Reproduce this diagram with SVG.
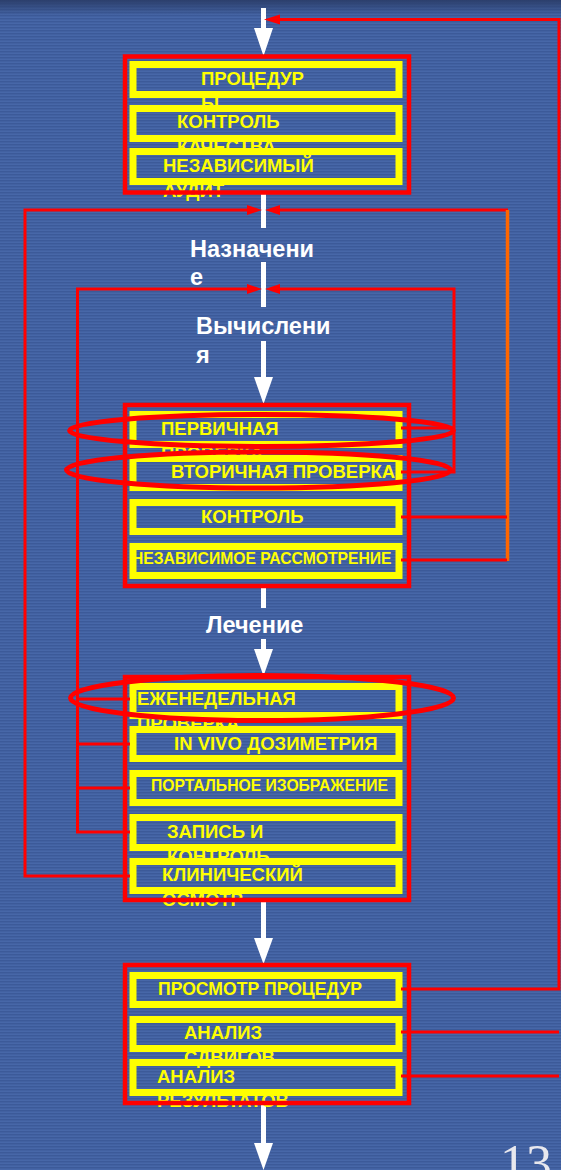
<svg xmlns="http://www.w3.org/2000/svg" width="561" height="1170" viewBox="0 0 561 1170">
<defs>
<pattern id="stripes" width="4" height="3" patternUnits="userSpaceOnUse">
<rect width="4" height="3" fill="#4261A1"/>
<rect y="0" width="4" height="1" fill="#3C5A99"/>
<rect y="2" width="4" height="1" fill="#4767A8"/>
</pattern>
<linearGradient id="topband" x1="0" y1="0" x2="0" y2="1">
<stop offset="0" stop-color="#2C3F6C"/>
<stop offset="1" stop-color="#2C3F6C" stop-opacity="0"/>
</linearGradient>
<style>
.red{fill:none;stroke:#FF0000;stroke-width:4.5}
.yb{fill:none;stroke:#FFFF00;stroke-width:7}
.yt{font-family:"Liberation Sans",Arial,sans-serif;font-weight:bold;font-size:18.5px;fill:#FFFF00}
.ys{font-size:15.7px}
.wt{font-family:"Liberation Sans",Arial,sans-serif;font-weight:bold;font-size:23.5px;fill:#FFFFFF}
.conn{fill:none;stroke:#FF0000;stroke-width:3}
.orange{fill:none;stroke:#FF6600;stroke-width:3.5}
.ah{fill:#FF0000}
.wshaft{stroke:#FFFFFF;stroke-width:5;fill:none}
.whead{fill:#FFFFFF}
.ell{fill:none;stroke:#FF0000;stroke-width:5}
</style>
</defs>
<rect width="561" height="1170" fill="url(#stripes)"/>
<rect width="561" height="16" fill="url(#topband)"/>

<g id="flow">
<line class="wshaft" x1="263.5" y1="8" x2="263.5" y2="30"/>
<polygon class="whead" points="254,28 273,28 263.5,56"/>
<line class="wshaft" x1="263.5" y1="194" x2="263.5" y2="228"/>
<line class="wshaft" x1="263.5" y1="262" x2="263.5" y2="307"/>
<line class="wshaft" x1="263.5" y1="341" x2="263.5" y2="380"/>
<polygon class="whead" points="254,377 273,377 263.5,404"/>
<line class="wshaft" x1="263.5" y1="588" x2="263.5" y2="608"/>
<line class="wshaft" x1="263.5" y1="639" x2="263.5" y2="652"/>
<polygon class="whead" points="254,649 273,649 263.5,676"/>
<line class="wshaft" x1="263.5" y1="902" x2="263.5" y2="941"/>
<polygon class="whead" points="254,938 273,938 263.5,964"/>
<line class="wshaft" x1="263.5" y1="1104" x2="263.5" y2="1146"/>
<polygon class="whead" points="254,1143 273,1143 263.5,1170"/>
</g>

<g id="label-naznachenie"><text class="wt" x="190" y="257">Назначени<tspan x="190" y="285">е</tspan></text></g>
<g id="label-vychislenia"><text class="wt" x="196" y="334">Вычислени<tspan x="196" y="363">я</tspan></text></g>
<g id="label-lechenie"><text class="wt" x="206" y="633">Лечение</text></g>

<g id="group-1">
<g id="n-procedury"><text class="yt" x="201" y="85">ПРОЦЕДУР<tspan x="201" y="110">Ы</tspan></text><rect class="yb" x="133" y="64.5" width="266" height="30"/></g>
<g id="n-kontrol-kachestva"><text class="yt" x="177" y="128">КОНТРОЛЬ<tspan x="177" y="153">КАЧЕСТВА</tspan></text><rect class="yb" x="133" y="108.5" width="266" height="30"/></g>
<g id="n-nezavisimy-audit"><text class="yt" x="163" y="172">НЕЗАВИСИМЫЙ<tspan x="163" y="197">АУДИТ</tspan></text><rect class="yb" x="133" y="151.5" width="266" height="30"/></g>
<rect class="red" x="125" y="56.5" width="284" height="136"/>
</g>

<g id="group-2">
<g id="n-pervichnaya"><text class="yt" x="161" y="435">ПЕРВИЧНАЯ<tspan x="161" y="460">ПРОВЕРКА</tspan></text><rect class="yb" x="133" y="414.5" width="266" height="30"/></g>
<g id="n-vtorichnaya"><text class="yt" x="171" y="478">ВТОРИЧНАЯ ПРОВЕРКА</text><rect class="yb" x="133" y="458.5" width="266" height="29"/></g>
<g id="n-kontrol"><text class="yt" x="201" y="523">КОНТРОЛЬ</text><rect class="yb" x="133" y="502.5" width="266" height="29"/></g>
<g id="n-nezavisimoe"><text class="yt ys" x="132" y="564">НЕЗАВИСИМОЕ РАССМОТРЕНИЕ</text><rect class="yb" x="133" y="546.5" width="266" height="29"/></g>
<rect class="red" x="125" y="405" width="284" height="181"/>
</g>

<g id="group-3">
<g id="n-ezhenedelnaya"><text class="yt" x="137" y="705">ЕЖЕНЕДЕЛЬНАЯ<tspan x="137" y="730">ПРОВЕРКА</tspan></text><rect class="yb" x="133" y="686.5" width="266" height="29"/></g>
<g id="n-in-vivo"><text class="yt" x="174" y="750">IN VIVO ДОЗИМЕТРИЯ</text><rect class="yb" x="133" y="729.5" width="266" height="29"/></g>
<g id="n-portalnoe"><text class="yt ys" x="151" y="791">ПОРТАЛЬНОЕ ИЗОБРАЖЕНИЕ</text><rect class="yb" x="133" y="773.5" width="266" height="29"/></g>
<g id="n-zapis"><text class="yt" x="167" y="838">ЗАПИСЬ И<tspan x="167" y="863">КОНТРОЛЬ</tspan></text><rect class="yb" x="133" y="817.5" width="266" height="30"/></g>
<g id="n-klinicheskiy"><text class="yt" x="162" y="881">КЛИНИЧЕСКИЙ<tspan x="162" y="906">ОСМОТР</tspan></text><rect class="yb" x="133" y="861.5" width="266" height="29"/></g>
<rect class="red" x="125" y="677" width="284" height="223"/>
</g>

<g id="group-4">
<g id="n-prosmotr"><text class="yt" style="font-size:17.6px" x="158" y="995">ПРОСМОТР ПРОЦЕДУР</text><rect class="yb" x="133" y="975.5" width="266" height="29"/></g>
<g id="n-analiz-sdvigov"><text class="yt" x="184" y="1039">АНАЛИЗ<tspan x="184" y="1064">СДВИГОВ</tspan></text><rect class="yb" x="133" y="1019.5" width="266" height="29"/></g>
<g id="n-analiz-rezultatov"><text class="yt" x="157" y="1083">АНАЛИЗ<tspan x="157" y="1107">РЕЗУЛЬТАТОВ</tspan></text><rect class="yb" x="133" y="1062.5" width="266" height="30"/></g>
<rect class="red" x="125" y="965" width="284" height="138"/>
</g>

<g id="connectors">
<polyline class="conn" points="401,989 559,989 559,19.5 279,19.5"/>
<line class="conn" x1="401" y1="1032" x2="559" y2="1032"/>
<line class="conn" x1="401" y1="1076" x2="559" y2="1076"/>
<polygon class="ah" points="264,19.5 280,14.5 280,24.5"/>

<polyline class="conn" points="130,876 25,876 25,210 248,210"/>
<polygon class="ah" points="262,210 247,205 247,215"/>
<line class="conn" x1="508" y1="210" x2="279" y2="210"/>
<polygon class="ah" points="265,210 280,205 280,215"/>
<line class="orange" x1="507.5" y1="210" x2="507.5" y2="561"/>
<line class="conn" x1="401" y1="517" x2="507" y2="517"/>
<line class="conn" x1="401" y1="560" x2="507" y2="560"/>

<polyline class="conn" points="130,832 77.5,832 77.5,289 248,289"/>
<polygon class="ah" points="262,289 247,284 247,294"/>
<polyline class="conn" points="401,472 454,472 454,289 279,289"/>
<polygon class="ah" points="265,289 280,284 280,294"/>
<line class="conn" x1="401" y1="428" x2="454" y2="428"/>
<line class="conn" x1="77.5" y1="699" x2="130" y2="699"/>
<line class="conn" x1="77.5" y1="744" x2="130" y2="744"/>
<line class="conn" x1="77.5" y1="788" x2="130" y2="788"/>
</g>

<g id="highlights">
<ellipse class="ell" cx="261.5" cy="430.5" rx="192" ry="16"/>
<ellipse class="ell" cx="258.5" cy="470" rx="192" ry="18"/>
<ellipse class="ell" cx="262" cy="698" rx="191.5" ry="22.5"/>
</g>

<text x="500" y="1181" font-family="'Liberation Serif','Times New Roman',serif" font-size="52" fill="#E8E8EE">13</text>
</svg>
